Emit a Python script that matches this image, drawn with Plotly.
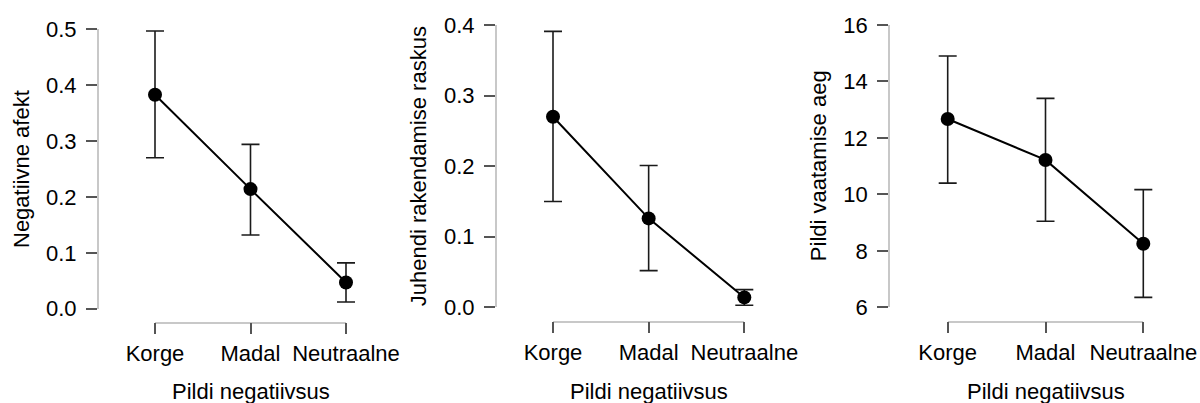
import plotly.graph_objects as go

W, H = 1200, 403

categories = ["Korge", "Madal", "Neutraalne"]
x_title = "Pildi negatiivsus"

# Panel 1: Negatiivne afekt
neg_mean = [0.383, 0.214, 0.047]
neg_upper = [0.497, 0.294, 0.082]
neg_lower = [0.270, 0.132, 0.012]

# Panel 2: Juhendi rakendamise raskus
juh_mean = [0.270, 0.126, 0.014]
juh_upper = [0.391, 0.201, 0.025]
juh_lower = [0.150, 0.052, 0.003]

# Panel 3: Pildi vaatamise aeg
aeg_mean = [12.67, 11.22, 8.25]
aeg_upper = [14.90, 13.40, 10.17]
aeg_lower = [10.40, 9.05, 6.35]

panels = [
    dict(mean=neg_mean, upper=neg_upper, lower=neg_lower, ytitle="Negatiivne afekt",
         yrange=[0, 0.5], ytickvals=[0, 0.1, 0.2, 0.3, 0.4, 0.5], yfmt=".1f",
         ytop=29.3, ybot=308.7, yaxis_x=97.7, xleft=155, xright=346, xline=322.7, ytitle_x=21),
    dict(mean=juh_mean, upper=juh_upper, lower=juh_lower, ytitle="Juhendi rakendamise raskus",
         yrange=[0, 0.4], ytickvals=[0, 0.1, 0.2, 0.3, 0.4], yfmt=".1f",
         ytop=25, ybot=307.3, yaxis_x=495.7, xleft=553, xright=744.3, xline=321.7, ytitle_x=418),
    dict(mean=aeg_mean, upper=aeg_upper, lower=aeg_lower, ytitle="Pildi vaatamise aeg",
         yrange=[6, 16], ytickvals=[6, 8, 10, 12, 14, 16], yfmt="d",
         ytop=25, ybot=307.3, yaxis_x=889, xleft=947.7, xright=1143.3, xline=321.7, ytitle_x=818),
]

FONT = "Liberation Sans, Arial, sans-serif"
FS = 22
PAD = 30  # extra px on each side of the invisible data axis so caps are not clipped

fig = go.Figure()
annotations = []
layout_axes = {}

for i, p in enumerate(panels, start=1):
    # tick axis index (visible) and data axis index (invisible, wider)
    ti = 2 * i - 1
    di = 2 * i
    xt = "x" if ti == 1 else f"x{ti}"
    xd = f"x{di}"
    ys = "y" if i == 1 else f"y{i}"
    plus = [u - m for u, m in zip(p["upper"], p["mean"])]
    minus = [m - l for m, l in zip(p["mean"], p["lower"])]
    ppu = (p["xright"] - p["xleft"]) / 2.0
    ext = PAD / ppu

    # invisible trace to bind the tick axis
    fig.add_trace(go.Scatter(
        x=categories, y=p["mean"], xaxis=xt, yaxis=ys, mode="markers",
        marker=dict(color="rgba(0,0,0,0)", size=1),
        showlegend=False, hoverinfo="skip",
    ))
    # error bars
    fig.add_trace(go.Scatter(
        x=categories, y=p["mean"], xaxis=xd, yaxis=ys, mode="markers",
        marker=dict(color="rgba(0,0,0,0)", size=1),
        error_y=dict(type="data", symmetric=False, array=plus, arrayminus=minus,
                     color="#1a1a1a", thickness=1.6, width=9),
        showlegend=False, hoverinfo="skip",
    ))
    # line + markers
    fig.add_trace(go.Scatter(
        x=categories, y=p["mean"], xaxis=xd, yaxis=ys,
        mode="lines+markers",
        line=dict(color="black", width=2),
        marker=dict(color="black", size=14),
        cliponaxis=False, showlegend=False, hoverinfo="skip",
    ))

    xtk = "xaxis" if ti == 1 else f"xaxis{ti}"
    xdk = f"xaxis{di}"
    yk = "yaxis" if i == 1 else f"yaxis{i}"
    layout_axes[xtk] = dict(
        domain=[p["xleft"] / W, p["xright"] / W],
        type="category", categoryorder="array", categoryarray=categories,
        range=[0, 2], anchor="free", position=1 - p["xline"] / H,
        showline=True, linecolor="#c8c8c8", linewidth=1.5,
        ticks="outside", ticklen=11, tickcolor="#555555", tickwidth=1.5,
        showgrid=False, zeroline=False, automargin=False,
        tickfont=dict(family=FONT, size=FS, color="black"),
        fixedrange=True,
    )
    layout_axes[xdk] = dict(
        domain=[(p["xleft"] - PAD) / W, (p["xright"] + PAD) / W],
        type="category", categoryorder="array", categoryarray=categories,
        range=[-ext, 2 + ext], anchor=ys, visible=False,
        showgrid=False, zeroline=False, automargin=False, fixedrange=True,
    )
    layout_axes[yk] = dict(
        domain=[1 - p["ybot"] / H, 1 - p["ytop"] / H],
        range=p["yrange"], tickvals=p["ytickvals"], tickformat=p["yfmt"],
        anchor="free", position=p["yaxis_x"] / W,
        showline=True, linecolor="#c8c8c8", linewidth=1.5,
        ticks="outside", ticklen=11, tickcolor="#555555", tickwidth=1.5,
        ticklabelstandoff=5,
        showgrid=False, zeroline=False, automargin=False,
        tickfont=dict(family=FONT, size=FS, color="black"),
        fixedrange=True,
    )
    # x-axis title
    annotations.append(dict(
        text=x_title, xref="paper", yref="paper",
        x=(p["xleft"] + p["xright"]) / 2 / W, y=1 - 391 / H,
        xanchor="center", yanchor="middle", showarrow=False,
        font=dict(family=FONT, size=FS, color="black"),
    ))
    # y-axis title
    annotations.append(dict(
        text=p["ytitle"], xref="paper", yref="paper",
        x=p["ytitle_x"] / W, y=1 - (p["ytop"] + p["ybot"]) / 2 / H,
        xanchor="center", yanchor="middle", textangle=-90, showarrow=False,
        font=dict(family=FONT, size=FS, color="black"),
    ))

fig.update_layout(
    width=W, height=H,
    margin=dict(l=0, r=0, t=0, b=0, autoexpand=False),
    paper_bgcolor="white", plot_bgcolor="white",
    annotations=annotations,
    **layout_axes,
)

fig.write_html(
    "out.html",
    config={"displayModeBar": False},
    post_script="document.body.style.margin='0';document.body.style.overflow='hidden';",
)
